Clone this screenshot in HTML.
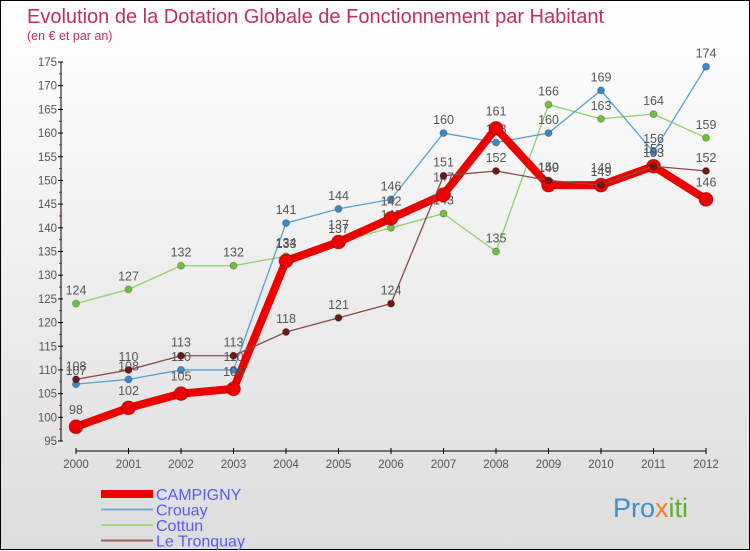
<!DOCTYPE html>
<html><head><meta charset="utf-8">
<style>
body{margin:0}
#c{width:750px;height:550px;position:relative;border:1px solid #000;box-sizing:border-box;background:linear-gradient(#fff,#ddd);font-family:"Liberation Sans",sans-serif}
svg{position:absolute;left:0;top:0}
</style></head><body>
<div id="c">
<svg id="s" width="750" height="550">
<text x="26" y="22" font-size="20" fill="#c0305a">Evolution de la Dotation Globale de Fonctionnement par Habitant</text>
<text x="26" y="39" font-size="12.5" fill="#c0305a">(en € et par an)</text>
<text x="612" y="516" font-size="27" fill="#3a8fd0">Pro<tspan fill="#f08020">x</tspan><tspan fill="#60b030">iti</tspan></text>
</svg>
</div>
<script>
const years=[2000,2001,2002,2003,2004,2005,2006,2007,2008,2009,2010,2011,2012];
const campigny=[98,102,105,106,133,137,142,147,161,149,149,153,146];
const crouay=[107,108,110,110,141,144,146,160,158,160,169,156,174];
const cottun=[124,127,132,132,134,137,140,143,135,166,163,164,159];
const tronquay=[108,110,113,113,118,121,124,151,152,150,149,153,152];
const yTicks=[95,100,105,110,115,120,125,130,135,140,145,150,155,160,165,170,175];
const NS="http://www.w3.org/2000/svg",s=document.getElementById('s');
const X=i=>75+i*52.5, Y=v=>440-(v-95)*(379/80);
function el(t,a,p){const e=document.createElementNS(NS,t);for(const k in a)e.setAttribute(k,a[k]);(p||s).appendChild(e);return e;}
let ax=el('g',{});


el('line',{x1:60,y1:Y(175),x2:60,y2:Y(95),stroke:'#000'},ax);
el('line',{x1:75,y1:450,x2:705,y2:450,stroke:'#000'},ax);
yTicks.forEach(v=>{el('line',{x1:57,x2:62,y1:Y(v),y2:Y(v),stroke:'#000'},ax);
 if(v<175)el('line',{x1:58,x2:61,y1:Y(v+2.5),y2:Y(v+2.5),stroke:'#e00'},ax);
 const t=el('text',{x:56,y:Y(v)+4,'font-size':11.5,fill:'#555','text-anchor':'end'},ax);t.textContent=v;
 
 });
years.forEach((y,i)=>{el('line',{x1:X(i),x2:X(i),y1:447,y2:453,stroke:'#000'},ax);
 const t=el('text',{x:X(i),y:467,'font-size':11.5,fill:'#555','text-anchor':'middle'},ax);t.textContent=y;
 
 });
function series(name,d,col,w,r,pc){const g=el('g',{});
 
 
 el('polyline',{points:d.map((v,i)=>X(i)+','+Y(v)).join(' '),fill:'none',stroke:col,'stroke-width':w,'stroke-linejoin':'round'},g);
 d.forEach((v,i)=>{const c=el('circle',{cx:X(i),cy:Y(v),r:r,fill:pc,stroke:'rgba(0,0,0,0.25)'},g);
  
  
  const t=el('text',{x:X(i),y:Y(v)-9-(r>5?4:0),'font-size':12.5,fill:'#555','text-anchor':'middle'},g);t.textContent=v;
  
  });}
series('cottun',cottun,'#8fd070',1.3,3.5,'#70c040');
series('crouay',crouay,'#5aa0d0',1.3,3.5,'#3a8ac8');
series('campigny',campigny,'#ee0000',8,7,'#ee0000');
series('tronquay',tronquay,'#8a4a4a',1.3,3.5,'#6a1818');
const names=['CAMPIGNY','Crouay','Cottun','Le Tronquay'],cols=['#ee0000','#7aaed0','#a0d880','#9a6060'],ws=[8,2,2,2];
names.forEach((n,i)=>{const g=el('g',{});
 
 
 const y=493+i*15.5;el('line',{x1:100,x2:152,y1:y,y2:y,stroke:cols[i],'stroke-width':ws[i]},g);
 const t=el('text',{x:155,y:y+6,'font-size':16,fill:'#5a5af0'},g);t.textContent=n;});
</script>
</body></html>
